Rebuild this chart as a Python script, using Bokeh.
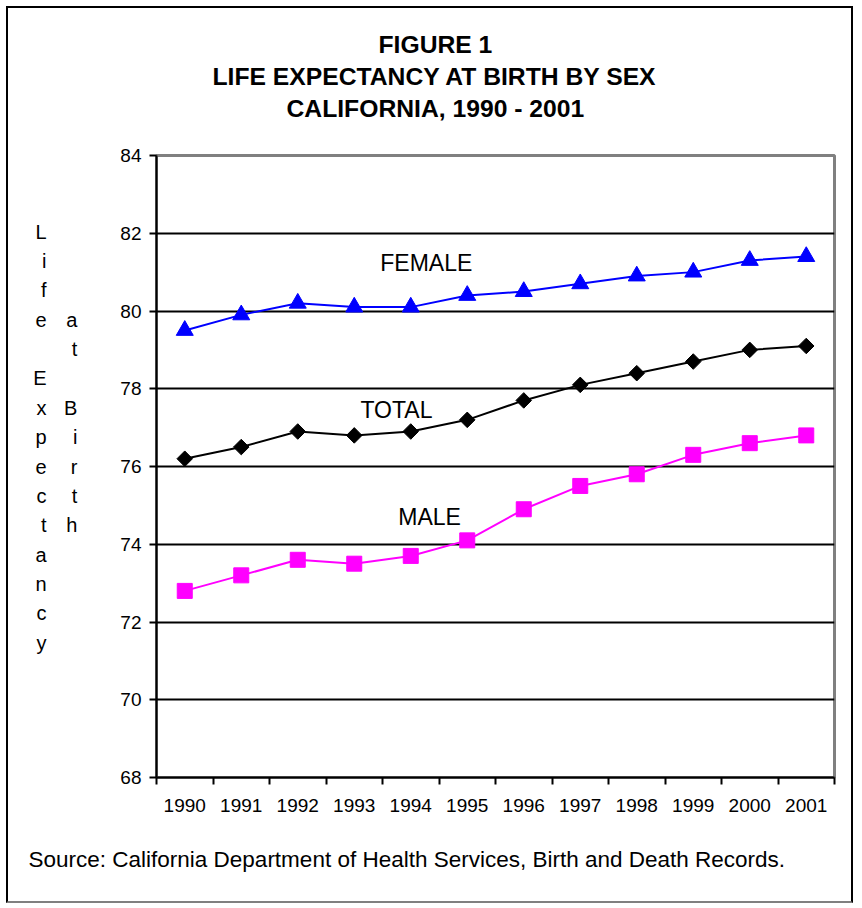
from bokeh.plotting import figure
from bokeh.models import Range1d, FixedTicker, Label, ColumnDataSource, Title, LinearAxis
from bokeh.embed import file_html
from bokeh.resources import INLINE
import math

# ---- data ----
years = ["1990", "1991", "1992", "1993", "1994", "1995",
         "1996", "1997", "1998", "1999", "2000", "2001"]
female = [79.5, 79.9, 80.2, 80.1, 80.1, 80.4, 80.5, 80.7, 80.9, 81.0, 81.3, 81.4]
total = [76.2, 76.5, 76.9, 76.8, 76.9, 77.2, 77.7, 78.1, 78.4, 78.7, 79.0, 79.1]
male = [72.8, 73.2, 73.6, 73.5, 73.7, 74.1, 74.9, 75.5, 75.8, 76.3, 76.6, 76.8]
y_ticks = [68, 70, 72, 74, 76, 78, 80, 82, 84]
title_lines = ["FIGURE 1", "LIFE EXPECTANCY AT BIRTH BY SEX", "CALIFORNIA, 1990 - 2001"]
y_title_1 = "Life Expectancy"
y_title_2 = "at Birth"
source_text = "Source: California Department of Health Services, Birth and Death Records."

FONT = "Liberation Sans"

W, H = 847, 897
p = figure(width=W, height=H, output_backend="svg", toolbar_location=None,
           x_range=Range1d(0, len(years)), y_range=Range1d(68, 84),
           min_border_left=148, min_border_right=21, min_border_top=147,
           min_border_bottom=128)
p.margin = (6, 0, 0, 6)
p.background_fill_color = "white"
p.border_fill_color = "white"
p.outline_line_color = "#808080"
p.outline_line_width = 3
p.styles = {"border-top": "2px solid black", "border-left": "2px solid black",
            "border-right": "2px solid black", "border-bottom": "2px solid #808080"}

xs = [i + 0.5 for i in range(len(years))]
src = ColumnDataSource(dict(x=xs, female=female, total=total, male=male))

# x axis: labels at category centres, ticks at boundaries
p.xaxis.ticker = FixedTicker(ticks=xs, minor_ticks=list(range(len(years) + 1)))
p.xaxis.major_label_overrides = {x: y for x, y in zip(xs, years)}
p.xaxis.major_tick_out = 0
p.xaxis.major_tick_in = 0
p.xaxis.minor_tick_out = 7
p.xaxis.minor_tick_in = 0
p.xaxis.minor_tick_line_color = "black"
p.xaxis.minor_tick_line_width = 2
p.xaxis.major_label_standoff = 14
p.xgrid.visible = False

p.yaxis.ticker = FixedTicker(ticks=y_ticks)
p.yaxis.major_tick_out = 7
p.yaxis.major_tick_in = 0
p.yaxis.minor_tick_line_color = None
p.yaxis.major_tick_line_width = 2
p.yaxis.major_label_standoff = 8
p.ygrid.ticker = FixedTicker(ticks=y_ticks[1:-1])
p.ygrid.grid_line_color = "black"
p.ygrid.grid_line_width = 2

for ax in (p.xaxis, p.yaxis):
    ax.axis_line_color = "black"
    ax.axis_line_width = 2
    ax.major_tick_line_color = "black"
    ax.major_label_text_font = FONT
    ax.major_label_text_font_size = "19px"
    ax.major_label_text_color = "black"

# stacked-letter y titles
LH = 1.334
col2 = "\n".join(list(y_title_2) + [" "] * 3)
col1 = "\n".join(list(y_title_1) + [" "] * 2)
p.yaxis.axis_label = col2
p.yaxis.axis_label_orientation = "horizontal"
p.yaxis.axis_label_standoff = 40
p.yaxis.axis_label_text_font = FONT
p.yaxis.axis_label_text_font_size = "20px"
p.yaxis.axis_label_text_font_style = "normal"
p.yaxis.axis_label_text_line_height = LH
p.yaxis.axis_label_text_color = "black"

outer = LinearAxis(ticker=FixedTicker(ticks=[]), axis_line_color=None,
                   major_tick_out=0, major_tick_in=0, minor_tick_out=0, minor_tick_in=0,
                   major_tick_line_color=None, minor_tick_line_color=None,
                   axis_label=col1, axis_label_orientation="horizontal",
                   axis_label_standoff=15, axis_label_text_font=FONT,
                   axis_label_text_font_size="20px", axis_label_text_font_style="normal",
                   axis_label_text_line_height=LH, axis_label_text_color="black")
p.add_layout(outer, "left")

# series
p.line("x", "female", source=src, line_color="#0000FF", line_width=2)
p.scatter("x", "female", source=src, marker="triangle", size=17,
          fill_color="#0000FF", line_color="#0000FF")
p.line("x", "total", source=src, line_color="black", line_width=2)
p.scatter("x", "total", source=src, marker="square", size=11, angle=math.pi / 4,
          fill_color="black", line_color="black", line_width=1)
p.line("x", "male", source=src, line_color="#FF00FF", line_width=2)
p.scatter("x", "male", source=src, marker="square", size=15,
          fill_color="#FF00FF", line_color="#FF00FF")

# series labels (data coordinates)
for txt, lx, ly in [("FEMALE", 3.96, 81.23), ("TOTAL", 3.61, 77.46), ("MALE", 4.28, 74.69)]:
    p.add_layout(Label(x=lx, y=ly, text=txt, text_font=FONT, text_font_size="23px",
                       text_align="left", text_baseline="middle", text_color="black"))

# spacer between frame and title block
p.add_layout(Title(text=" ", text_font=FONT, text_font_size="10px", standoff=19), "above")

# title lines: later-added are further from the frame (left offsets centre each line)
title_offsets = [222, 56, 130]
for line, off in reversed(list(zip(title_lines, title_offsets))):
    p.add_layout(Title(text=line, align="left", offset=off, text_font=FONT,
                       text_font_size="24.7px", text_font_style="bold",
                       text_color="black", standoff=3), "above")

p.add_layout(Title(text=source_text, align="left", offset=-128, text_font=FONT,
                   text_font_size="22.5px", text_font_style="normal", text_color="black",
                   standoff=61), "below")

open("out.html", "w").write(file_html(p, INLINE))
